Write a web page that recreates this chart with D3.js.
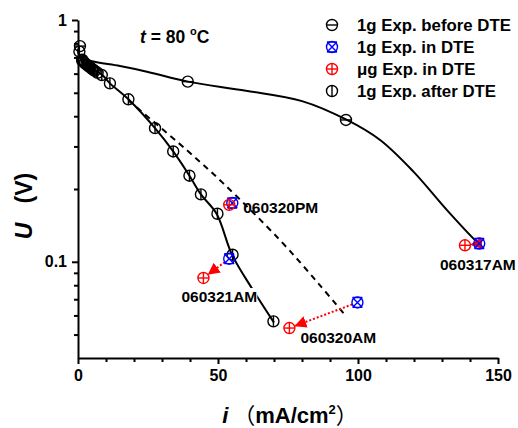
<!DOCTYPE html>
<html>
<head>
<meta charset="utf-8">
<script src="https://cdn.jsdelivr.net/npm/d3@7"></script>
<style>
  body { margin: 0; background: #fff; }
  svg { display: block; font-family: Arial, "Liberation Sans", sans-serif; font-weight: bold; }
</style>
</head>
<body>
<svg id="chart"></svg>
<script>
// ---- data (i in mA/cm2, U in V) ----
var beforeI = [0.7, 1.5, 39.2, 95.7];
var beforeU = [0.78, 0.68, 0.556, 0.386];

var afterI = [0.5, 1.5, 2, 2.5, 3, 3.5, 4, 4.5, 5, 5.5, 6, 7, 8.5, 11.4, 18, 27.5, 34, 39.8, 43.9, 49.8, 55.2, 69.8];
var afterU = [0.74, 0.685, 0.672, 0.662, 0.655, 0.648, 0.641, 0.635, 0.628, 0.622, 0.616, 0.605, 0.592, 0.547, 0.47, 0.357, 0.286, 0.227, 0.19, 0.158, 0.107, 0.0567];

var runNames = ["060317AM", "060320AM", "060320PM", "060321AM"];
var inDteI = [143.3, 99.8, 55.1, 54.0];     // 1g, in DTE (blue)
var inDteU = [0.119, 0.0679, 0.175, 0.103];
var microI = [138.2, 75.5, 54.0, 44.8];     // µg, in DTE (red)
var microU = [0.117, 0.0532, 0.172, 0.0857];

// fitted curves
var fitBeforeI = [0, 1, 5, 15, 25, 39.2, 60, 80, 95.7, 107.9, 119.8, 131.7, 141.8, 143.3];
var fitBeforeU = [0.76, 0.70, 0.675, 0.645, 0.61, 0.556, 0.51, 0.462, 0.388, 0.319, 0.236, 0.164, 0.123, 0.119];
var fitAfterI = [0, 2, 8.6, 11.4, 18, 27.5, 34, 39.8, 43.9, 49.5, 55, 62, 70];
var fitAfterU = [0.74, 0.665, 0.593, 0.547, 0.47, 0.357, 0.286, 0.227, 0.19, 0.158, 0.107, 0.078, 0.056];
var fitDashI = [18, 38.8, 51.9, 72.1, 85.8, 96];
var fitDashU = [0.465, 0.29, 0.211, 0.123, 0.0815, 0.059];

var xMajor = [0, 50, 100, 150];
var xMinor = [10, 20, 30, 40, 60, 70, 80, 90, 110, 120, 130, 140];
var yMajor = [0.1, 1];
var yMinor = [0.05, 0.06, 0.07, 0.08, 0.09, 0.2, 0.3, 0.4, 0.5, 0.6, 0.7, 0.8, 0.9];

var legendLabels = ["1g Exp. before DTE", "1g Exp. in DTE", "\u03bcg Exp. in DTE", "1g Exp. after DTE"];
var legendTypes = ["before", "inDte", "micro", "after"];

// ----------------------------------------------------
var width = 518, height = 428;
var x = d3.scaleLinear().domain([0, 150]).range([78, 498]);
var y = d3.scaleLog().domain([0.04, 1]).range([358, 20]);

var svg = d3.select("#chart").attr("width", width).attr("height", height);

function zip(a, b) { return a.map(function (v, i) { return [v, b[i]]; }); }

// axes
svg.append("g").attr("transform", "translate(0," + y(0.04) + ")")
    .call(d3.axisBottom(x).tickValues(xMajor).tickSize(6).tickSizeOuter(0).tickPadding(6).tickFormat(d3.format("d")));
svg.append("g").attr("transform", "translate(0," + y(0.04) + ")")
    .call(d3.axisBottom(x).tickValues(xMinor).tickSize(4).tickSizeOuter(0).tickFormat(""))
    .select(".domain").remove();

svg.append("g").attr("transform", "translate(" + x(0) + ",0)")
    .call(d3.axisLeft(y).tickValues(yMajor).tickSize(6).tickSizeOuter(0).tickPadding(5).tickFormat(function (d) { return d === 1 ? "1" : "0.1"; }));
svg.append("g").attr("transform", "translate(" + x(0) + ",0)")
    .call(d3.axisLeft(y).tickValues(yMinor).tickSize(4).tickSizeOuter(0).tickFormat(""))
    .select(".domain").remove();

svg.selectAll(".domain").attr("stroke-width", 2);
svg.selectAll(".tick line").attr("stroke-width", 2);
svg.selectAll(".tick text").attr("font-size", 16).attr("font-family", "Arial, 'Liberation Sans', sans-serif").attr("font-weight", "bold").attr("fill", "#000");

// axis titles
var xt = svg.append("text").attr("x", 290).attr("y", 423).attr("text-anchor", "middle").attr("font-size", 22);
xt.append("tspan").attr("font-style", "italic").text("i");
xt.append("tspan").attr("font-family", "'Noto Sans CJK SC', sans-serif").attr("font-weight", "normal").text(" \uff08");
xt.append("tspan").text("mA/cm");
xt.append("tspan").attr("font-size", 13).attr("dy", -9).text("2");
xt.append("tspan").attr("dy", 9).attr("font-family", "'Noto Sans CJK SC', sans-serif").attr("font-weight", "normal").text("\uff09");

var yt = svg.append("text").attr("transform", "translate(32,206) rotate(-90)").attr("text-anchor", "middle").attr("font-size", 23);
yt.append("tspan").attr("font-style", "italic").text("U");
yt.append("tspan").attr("xml:space", "preserve").text("   (V)");

// temperature note
var tt = svg.append("text").attr("x", 140).attr("y", 43).attr("font-size", 17.5);
tt.append("tspan").attr("font-style", "italic").text("t");
tt.append("tspan").text(" = 80 ");
tt.append("tspan").attr("font-size", 11).attr("dy", -8).text("o");
tt.append("tspan").attr("dy", 8).text("C");

// curves
var line = d3.line().x(function (d) { return x(d[0]); }).y(function (d) { return y(d[1]); }).curve(d3.curveCatmullRom.alpha(0.5));
svg.append("path").attr("d", line(zip(fitBeforeI, fitBeforeU))).attr("fill", "none").attr("stroke", "#000").attr("stroke-width", 2);
svg.append("path").attr("d", line(zip(fitAfterI, fitAfterU))).attr("fill", "none").attr("stroke", "#000").attr("stroke-width", 2);
svg.append("path").attr("d", line(zip(fitDashI, fitDashU))).attr("fill", "none").attr("stroke", "#000").attr("stroke-width", 2).attr("stroke-dasharray", "6,5");

// symbols
var R = 5.5;
function symbol(g, type, cx, cy) {
    var s = g.append("g").attr("transform", "translate(" + cx + "," + cy + ")").attr("fill", "none").attr("stroke-width", 1.4);
    var col = type === "inDte" ? "#0000ff" : type === "micro" ? "#ff0000" : "#000";
    s.attr("stroke", col);
    s.append("circle").attr("r", R);
    if (type === "before" || type === "micro")
        s.append("line").attr("x1", -R).attr("x2", R);
    if (type === "after" || type === "micro")
        s.append("line").attr("y1", -R).attr("y2", R);
    if (type === "inDte") {
        var k = R * 0.9;
        s.append("path").attr("d", "M" + -k + "," + -k + "L" + k + "," + k + "M" + k + "," + -k + "L" + -k + "," + k +
            "M" + -k + "," + -k + "H" + k + "M" + -k + "," + k + "H" + k);
    }
    return s;
}

var marks = svg.append("g");
zip(beforeI, beforeU).forEach(function (d) { symbol(marks, "before", x(d[0]), y(d[1])); });
zip(afterI, afterU).forEach(function (d) { symbol(marks, "after", x(d[0]), y(d[1])); });

// arrows from 1g in DTE to µg in DTE
svg.append("defs").append("marker").attr("id", "arr").attr("viewBox", "0 0 10 10")
    .attr("refX", 9).attr("refY", 5).attr("markerWidth", 6).attr("markerHeight", 6).attr("orient", "auto")
    .append("path").attr("d", "M0,0L10,5L0,10Z").attr("fill", "#ff0000");

runNames.forEach(function (name, i) {
    var x1 = x(inDteI[i]), y1 = y(inDteU[i]), x2 = x(microI[i]), y2 = y(microU[i]);
    var dx = x2 - x1, dy = y2 - y1, len = Math.sqrt(dx * dx + dy * dy);
    if (len < 12) return;
    var ex = x2 - dx / len * (R + 1), ey = y2 - dy / len * (R + 1);
    svg.append("line").attr("x1", x1 + dx / len * R).attr("y1", y1 + dy / len * R).attr("x2", ex).attr("y2", ey)
        .attr("stroke", "#ff0000").attr("stroke-width", 2).attr("stroke-dasharray", "2,2")
        .attr("marker-end", "url(#arr)");
});

runNames.forEach(function (name, i) {
    symbol(svg, "inDte", x(inDteI[i]), y(inDteU[i]));
    symbol(svg, "micro", x(microI[i]), y(microU[i]));
});

// run labels, placed relative to the µg point
var labelOffset = { "060317AM": [-25, 25], "060320AM": [11, 15], "060320PM": [14, 8], "060321AM": [-22, 24] };
runNames.forEach(function (name, i) {
    var off = labelOffset[name];
    var t = svg.append("text").attr("x", x(microI[i]) + off[0]).attr("y", y(microU[i]) + off[1]).attr("font-size", 15.5).text(name);
    if (name === "060321AM") {
        var b = t.node().getBBox();
        svg.insert("rect", function () { return t.node(); })
            .attr("x", b.x).attr("y", b.y).attr("width", b.width).attr("height", b.height).attr("fill", "#fff");
    }
});

// legend
var legend = svg.append("g");
legendLabels.forEach(function (lab, i) {
    var ly = 25 + i * 22;
    symbol(legend, legendTypes[i], 332, ly);
    legend.append("text").attr("x", 357).attr("y", ly + 6).attr("font-size", 16.8).text(lab);
});
</script>
</body>
</html>
